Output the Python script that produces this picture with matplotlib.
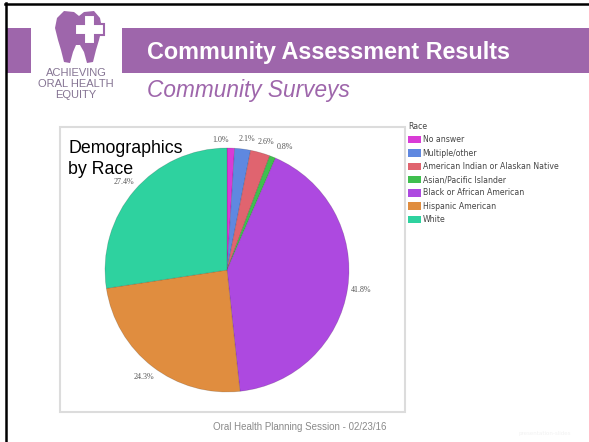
import matplotlib.pyplot as plt
from matplotlib.patches import Rectangle, Polygon

# data
races = ['No answer', 'Multiple/other', 'American Indian or Alaskan Native',
         'Asian/Pacific Islander', 'Black or African American',
         'Hispanic American', 'White']
shares = [1.0, 2.1, 2.6, 0.8, 41.8, 24.3, 27.4]
colors = ['#d93bd6', '#5f88e0', '#e0646f', '#3fbf4f', '#ad49e0', '#e08d3f', '#2ed29f']

title = 'Community Assessment Results'
subtitle = 'Community Surveys'
chart_title = 'Demographics\nby Race'
footer = 'Oral Health Planning Session - 02/23/16'

W, H = 589, 442
purple = '#9e66ab'

fig = plt.figure(figsize=(W / 100, H / 100), dpi=100)
fig.patch.set_facecolor('white')

# slide background in pixel coordinates
bg = fig.add_axes([0, 0, 1, 1])
bg.set_xlim(0, W)
bg.set_ylim(H, 0)
bg.axis('off')

# slide border (left and top)
bg.plot([5.5, 5.5], [3, H], color='black', lw=1.8)
bg.plot([5, W], [4, 4], color='black', lw=1.8)

# banners
bg.add_patch(Rectangle((7, 28), 24, 45, color=purple, lw=0))
bg.add_patch(Rectangle((122, 28), W - 122, 45, color=purple, lw=0))
bg.text(147, 52, title, color='white', fontsize=16.8, fontweight='bold',
        family='Liberation Sans', va='center', ha='left')
bg.text(147, 91, subtitle, color=purple, fontsize=16.3, style='italic',
        family='Liberation Sans', va='center', ha='left')

# logo: tooth with cross
tooth = [(57, 18), (64, 11), (74, 12), (79, 16), (84, 12), (94, 11), (100, 18),
         (102, 28), (99, 40), (96, 50), (93, 62), (87, 63), (84, 52), (80, 45),
         (76, 45), (73, 52), (70, 63), (64, 62), (61, 50), (58, 40), (55, 28)]
bg.add_patch(Polygon(tooth, closed=True, color=purple, lw=0))
cx_, cy_, a, b = 89, 29, 5.5, 14.5
cross = [(cx_ - a, cy_ - b), (cx_ + a, cy_ - b), (cx_ + a, cy_ - a), (cx_ + b, cy_ - a),
         (cx_ + b, cy_ + a), (cx_ + a, cy_ + a), (cx_ + a, cy_ + b), (cx_ - a, cy_ + b),
         (cx_ - a, cy_ + a), (cx_ - b, cy_ + a), (cx_ - b, cy_ - a), (cx_ - a, cy_ - a)]
bg.add_patch(Polygon(cross, closed=True, facecolor='white', edgecolor=purple, lw=1.5))
for y, s in zip([73, 84, 95], ['ACHIEVING', 'ORAL HEALTH', 'EQUITY']):
    bg.text(76, y, s, color='#857493', fontsize=8, family='Liberation Sans',
            ha='center', va='center')

# chart frame
bg.add_patch(Rectangle((60, 127), 345, 285, facecolor='white',
                       edgecolor='#dcdcdc', lw=1.5))
bg.text(68, 159, chart_title, fontsize=12.8, family='Liberation Sans',
        ha='left', va='center', linespacing=1.3)

# footer
bg.text(300, 427, footer, color='#8a8a8a', fontsize=7,
        family='Liberation Sans', ha='center', va='center')
bg.text(545, 433, 'presentation-slides', color='#f2f2f2', fontsize=4,
        ha='center', va='center')

# pie
pcx, pcy, r = 227, 270, 122
ax = fig.add_axes([(pcx - r) / W, (H - pcy - r) / H, 2 * r / W, 2 * r / H])
wedges, texts = ax.pie(shares, colors=colors, startangle=90, counterclock=False,
                       labels=[f'{v:.1f}%' for v in shares], labeldistance=1.11,
                       wedgeprops=dict(edgecolor='#00000030', linewidth=0.5),
                       textprops=dict(fontsize=5.8, color='#555555',
                                      family='Liberation Serif'))
for t in texts:
    t.set_ha('center')
    t.set_va('center')
# spread the crowded labels at the top
for t, dx, dy in zip(texts[:4], [-0.09, 0.02, 0.02, 0.06], [-0.04, -0.03, -0.02, -0.02]):
    x, y = t.get_position()
    t.set_position((x + dx, y + dy))
ax.set_xlim(-1, 1)
ax.set_ylim(-1, 1)
ax.axis('off')

leg = fig.legend(wedges, races, title='Race', loc='upper left',
                 bbox_to_anchor=(405 / W, 1 - 119 / H), frameon=False,
                 fontsize=5.6, title_fontsize=5.6, handlelength=1.7,
                 handleheight=1.1, handletextpad=0.15, labelspacing=0.55,
                 borderaxespad=0)
leg._legend_box.align = 'left'
for t in leg.get_texts():
    t.set_color('#444444')
leg.get_title().set_color('#444444')
for h in leg.legend_handles:
    h.set_edgecolor('none')

fig.savefig('out.png', dpi=100)
